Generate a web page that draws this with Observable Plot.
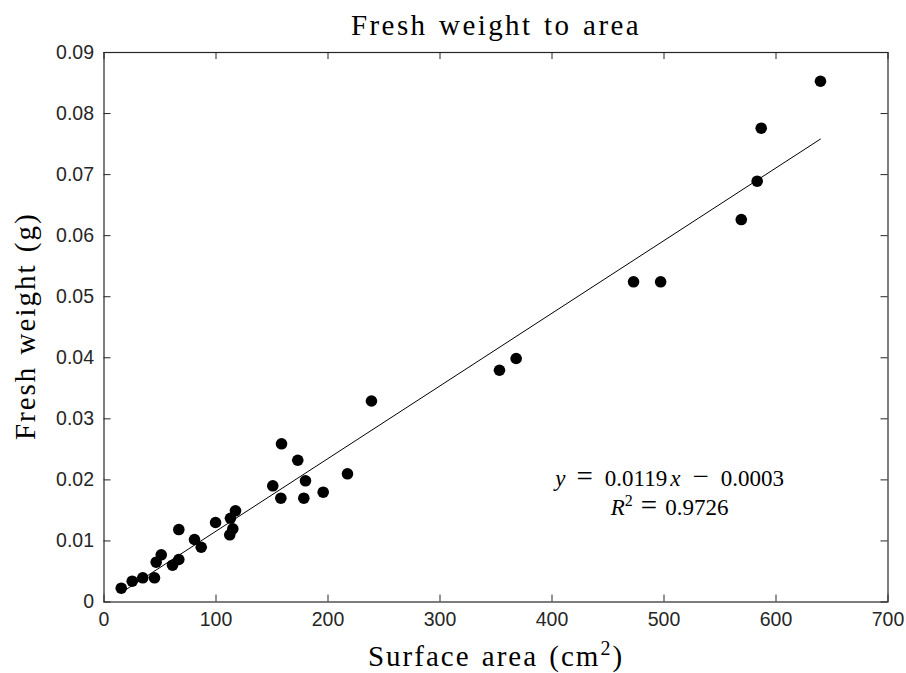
<!DOCTYPE html>
<html><head><meta charset="utf-8">
<script src="https://cdn.jsdelivr.net/npm/d3@7"></script>
<script src="https://cdn.jsdelivr.net/npm/@observablehq/plot@0.6"></script>
<style>body{margin:0;background:#fff}</style>
</head><body><div id="chart"></div>
<script>
// Surface area (cm^2) and fresh weight (g)
const area = [15.4, 25.2, 34.6, 45.1, 46.6, 51.1, 61.2, 66.8, 66.8, 80.8, 86.8, 99.6, 112.3, 115.0, 112.9, 117.4,
  150.7, 157.9, 158.5, 173.0, 179.9, 178.4, 195.7, 217.4, 238.8, 353.1, 368.0, 472.8, 497.0, 569.0, 583.2, 586.8, 639.7];
const weight = [0.00226, 0.00341, 0.00396, 0.00396, 0.00652, 0.00773, 0.00603, 0.00696, 0.01187, 0.01024, 0.00897,
  0.01302, 0.01101, 0.01199, 0.01372, 0.01494, 0.01903, 0.0170, 0.02591, 0.02322, 0.01985, 0.0170, 0.01798, 0.0210,
  0.03292, 0.03796, 0.03988, 0.05244, 0.05244, 0.06264, 0.06892, 0.0776, 0.08529];

const xTicks = [0, 100, 200, 300, 400, 500, 600, 700];
const yTicks = [0, 0.01, 0.02, 0.03, 0.04, 0.05, 0.06, 0.07, 0.08, 0.09];
const yTickLabels = ["0", "0.01", "0.02", "0.03", "0.04", "0.05", "0.06", "0.07", "0.08", "0.09"];

// Fit as printed: y = 0.0119x - 0.0003 with x in units of 100 cm^2
const fitSlope = 0.0119;
const fitIntercept = -0.0003;
const fitUnit = 100;
const eqLine1 = "y = 0.0119x \u2212 0.0003";
const eqLine2 = "R2 = 0.9726";
const eqAnchors = [{x: 505, y: 0.0202, t: eqLine1}, {x: 505, y: 0.0154, t: eqLine2}];

const titleText = "Fresh weight to area";
const xLabelText = "Surface area (cm2)";
const yLabelText = "Fresh weight (g)";

const points = area.map((a, i) => ({area: a, weight: weight[i]}));
const xExt = d3.extent(area);
const fitLine = xExt.map(a => ({area: a, weight: fitSlope * a / fitUnit + fitIntercept}));

const W = 906, H = 673, mL = 103.5, mR = 18.5, mT = 52, mB = 71.5;
const fw = W - mL - mR, fh = H - mT - mB, tick = 7;
const ink = "#262626";
const serif = "'Liberation Serif', 'DejaVu Serif', serif";
const sans = "'Liberation Sans', Arial, sans-serif";

const chart = Plot.plot({
  width: W, height: H,
  marginLeft: mL, marginRight: mR, marginTop: mT, marginBottom: mB,
  style: {background: "#fff"},
  x: {domain: [0, 700]},
  y: {domain: [0, 0.09]},
  marks: [
    Plot.line(fitLine, {x: "area", y: "weight", stroke: "#000", strokeWidth: 1}),
    Plot.dot(points, {x: "area", y: "weight", r: 5.8, fill: "#000", stroke: "none"}),
    Plot.frame({stroke: ink, strokeWidth: 1.2}),
    Plot.ruleX(xTicks, {x: d => d, insetTop: fh - tick, stroke: ink, strokeWidth: 1}),
    Plot.ruleX(xTicks, {x: d => d, insetBottom: fh - tick, stroke: ink, strokeWidth: 1}),
    Plot.ruleY(yTicks, {y: d => d, insetRight: fw - tick, stroke: ink, strokeWidth: 1}),
    Plot.ruleY(yTicks, {y: d => d, insetLeft: fw - tick, stroke: ink, strokeWidth: 1}),
    Plot.axisX(xTicks, {tickSize: 0, tickPadding: 10, fontSize: 19.5, fontFamily: sans, color: ink, label: null}),
    Plot.axisY(yTicks, {tickSize: 0, tickPadding: 10, fontSize: 19.5, fontFamily: sans, color: ink, label: null,
      tickFormat: (d) => yTickLabels[yTicks.indexOf(d)]}),
    Plot.text([titleText], {frameAnchor: "top", text: d => d, dy: -38, lineAnchor: "top", textAnchor: "middle",
      fontSize: 29, fontFamily: serif, fill: "#000"}),
    Plot.text([xLabelText], {frameAnchor: "bottom", text: d => d, dy: 43, lineAnchor: "top", textAnchor: "middle",
      fontSize: 29, fontFamily: serif, fill: "#000"}),
    Plot.text([yLabelText], {frameAnchor: "left", text: d => d, dx: -78, dy: -1, rotate: -90, lineAnchor: "middle",
      textAnchor: "middle", fontSize: 29, fontFamily: serif, fill: "#000"}),
    Plot.text(eqAnchors, {x: "x", y: "y", text: "t", fontSize: 23, fontFamily: serif, fill: "#000"})
  ]
});

// typographic touches: math italics, raised superscripts, TeX-like spacing around operators
const svg = d3.select(chart);
function rebuild(node, parts) {
  const t = d3.select(node);
  t.text(null);
  parts.forEach(p => {
    const s = t.append("tspan").text(p.s);
    if (p.it) s.attr("font-style", "italic");
    if (p.fs) s.attr("font-size", p.fs);
    if (p.dy) s.attr("dy", p.dy);
    if (p.dx) s.attr("dx", p.dx);
  });
}
svg.selectAll("text").each(function() {
  const s = this.textContent;
  if (s === eqLine1) rebuild(this, [{s: "y", it: 1}, {s: "=", fs: 29, dx: 11}, {s: "0.0119", dx: 12},
    {s: "x", it: 1, dx: 3}, {s: "\u2212", fs: 29, dx: 12}, {s: "0.0003", dx: 12}]);
  else if (s === eqLine2) rebuild(this, [{s: "R", it: 1}, {s: "2", fs: 16, dy: -9}, {s: "=", fs: 29, dy: 9, dx: 8},
    {s: "0.9726", dx: 8}]);
  else if (s === xLabelText) {
    rebuild(this, [{s: "Surface area (cm"}, {s: "2", fs: 20, dy: -11}, {s: ")", dy: 11}]);
    d3.select(this).attr("letter-spacing", 2).attr("word-spacing", 2);
  } else if (s === titleText) d3.select(this).attr("letter-spacing", 2.4).attr("word-spacing", 2);
  else if (s === yLabelText) d3.select(this).attr("letter-spacing", 2).attr("word-spacing", 2);
});
document.getElementById("chart").append(chart);
</script>
</body></html>
